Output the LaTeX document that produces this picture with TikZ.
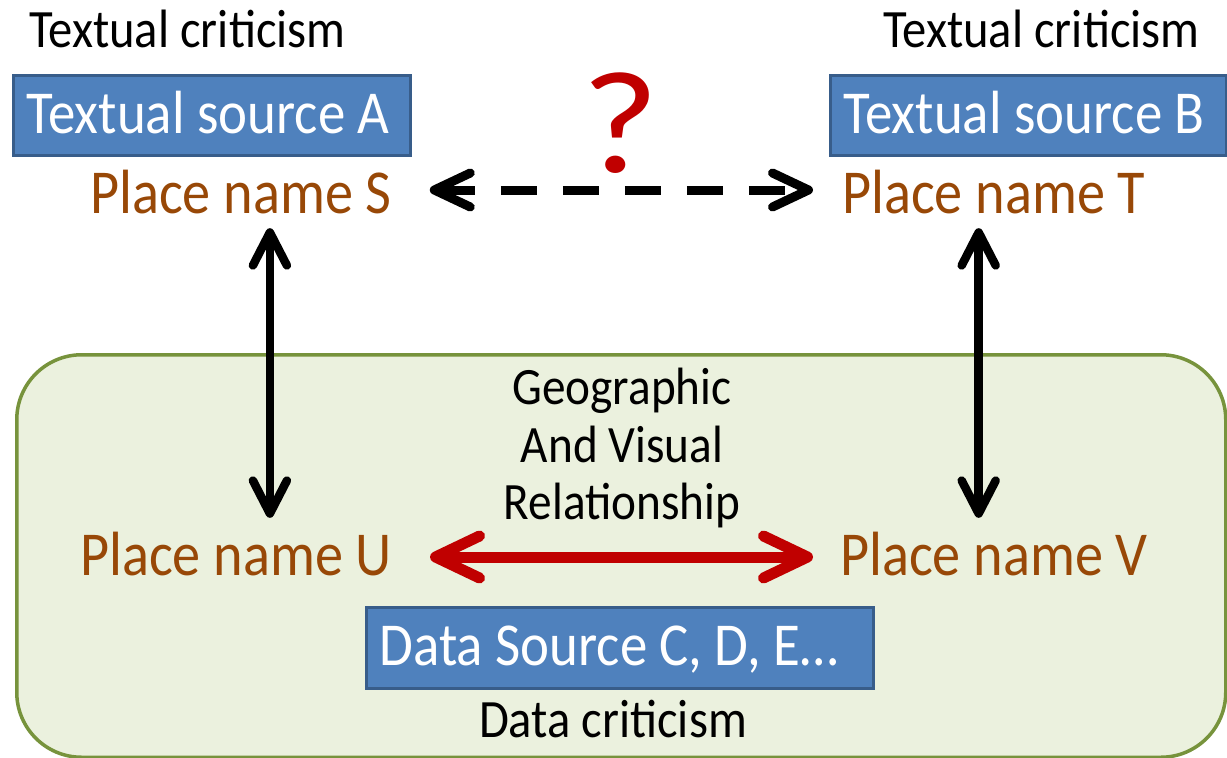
\documentclass[tikz,border=0pt]{standalone}
\usepackage{fontspec}
\setmainfont{Carlito}
\newfontfamily\cfont[FakeStretch=0.9]{Carlito}
\newfontfamily\qfont[FakeStretch=1.15]{Carlito}
\usetikzlibrary{arrows.meta}

\definecolor{srcfill}{HTML}{4F81BD}
\definecolor{srcline}{HTML}{385D8A}
\definecolor{placecol}{HTML}{984807}
\definecolor{alertred}{HTML}{C00000}
\definecolor{regionline}{HTML}{77933C}
\definecolor{regionfill}{HTML}{EBF1DE}

% fixed-width, left-set label inside a source box
\newcommand{\srclabel}[2]{\makebox[#1][l]{#2}}

\tikzset{
  srcbox/.style={draw=srcline, fill=srcfill, line width=3pt, rectangle,
    text=white, inner xsep=13.5pt, inner ysep=1pt,
    minimum height=80pt, text height=42pt, text depth=5.6pt,
    anchor=north west, font=\cfont\fontsize{61}{66}\selectfont},
  place/.style={text=placecol, inner sep=0pt, anchor=base west,
    text height=46pt, text depth=10pt,
    font=\cfont\fontsize{62.5}{68}\selectfont},
  caption/.style={text=black, inner sep=0pt,
    font=\cfont\fontsize{54}{60}\selectfont},
  regionbox/.style={draw=regionline, fill=regionfill, line width=3.5pt,
    rounded corners=65pt, anchor=north west, inner sep=0pt},
  link/.style={line width=8.5pt, black,
    {Straight Barb[round, length=33pt 0, width=34pt 0]}-{Straight Barb[round, length=33pt 0, width=34pt 0]}},
  unknownlink/.style={line width=9pt, black, dash pattern=on 36pt off 26pt,
    {Straight Barb[round, length=36pt 0, width=34pt 0]}-{Straight Barb[round, length=36pt 0, width=34pt 0]}},
  relation/.style={line width=11pt, alertred,
    {Straight Barb[round, length=44pt 0, width=42pt 0]}-{Straight Barb[round, length=44pt 0, width=42pt 0]}},
}

\begin{document}
\begin{tikzpicture}[x=1pt, y=-1pt]
  \path[use as bounding box, fill=white] (0,0) rectangle (1227,758);

  % shaded region for the data side
  \node[regionbox, minimum width=1209pt, minimum height=402.5pt] (region) at (15,353) {};

  % textual sources (top)
  \node[caption, anchor=base west] (tca) at (29,47) {Textual criticism};
  \node[caption, anchor=base west] (tcb) at (883,47) {Textual criticism};
  \node[srcbox] (srcA) at (11.5,73.5) {\srclabel{370pt}{Textual source A}};
  \node[srcbox] (srcB) at (828.5,73.5) {\srclabel{369pt}{Textual source B}};

  % place names
  \node[place] (S) at (90,213) {Place name S};
  \node[place] (T) at (842,213) {Place name T};
  \node[place] (U) at (80,575) {Place name U};
  \node[place] (V) at (840,575) {Place name V};

  % unknown correspondence
  \node[text=alertred, inner sep=0pt, anchor=base,
        font=\qfont\fontsize{146}{160}\selectfont] (q) at (620,172) {?};

  % relationship label
  \node[inner sep=0pt, align=center, anchor=center,
        font=\cfont\fontsize{52.5}{57.5}\selectfont] (rel) at (622,448)
        {Geographic\\And Visual\\Relationship};

  % data sources (bottom)
  \node[srcbox, minimum height=81pt] (srcC) at (364.5,605.5) {\srclabel{480pt}{Data Source C, D, E\ldots}};
  \node[caption, anchor=base] (dc) at (613,737) {Data criticism};

  % connectors
  \draw[unknownlink, shorten <=38pt, shorten >=29pt]
    ([yshift=5pt]S.east) -- ([yshift=5pt]T.west);
  \draw[link, shorten <=5pt, shorten >=11pt]
    ([xshift=29pt]S.south) -- ([xshift=29pt]S.south |- U.north);
  \draw[link, shorten <=5pt, shorten >=11pt]
    ([xshift=-15pt]T.south) -- ([xshift=-15pt]T.south |- V.north);
  \draw[relation, shorten <=38pt, shorten >=27pt] (U.east) -- (V.west);
\end{tikzpicture}
\end{document}
